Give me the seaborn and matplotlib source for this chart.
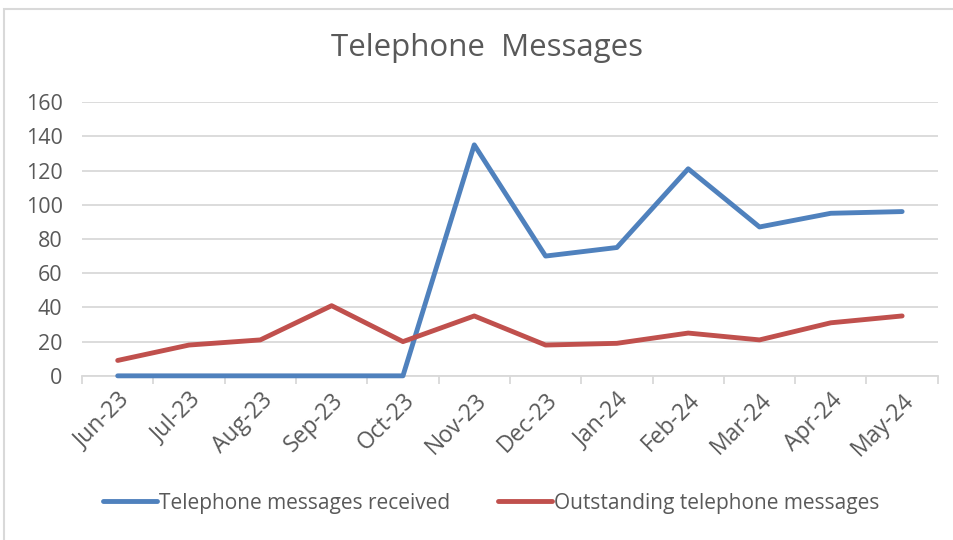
import matplotlib.pyplot as plt
import matplotlib.lines as mlines
import pandas as pd
import seaborn as sns
from matplotlib.ticker import FixedLocator

months = ['Jun-23', 'Jul-23', 'Aug-23', 'Sep-23', 'Oct-23', 'Nov-23',
          'Dec-23', 'Jan-24', 'Feb-24', 'Mar-24', 'Apr-24', 'May-24']
received = [0, 0, 0, 0, 0, 135, 70, 75, 121, 87, 95, 96]
outstanding = [9, 18, 21, 41, 20, 35, 18, 19, 25, 21, 31, 35]
series_names = ['Telephone messages received', 'Outstanding telephone messages']

sns.set_style('white')
plt.rcParams['font.family'] = ['Open Sans', 'DejaVu Sans']

df = pd.DataFrame({'month': months * 2,
                   'value': received + outstanding,
                   'series': [series_names[0]] * 12 + [series_names[1]] * 12})
df['pos'] = df.groupby('series').cumcount()

fig = plt.figure(figsize=(9.54, 5.4), dpi=100)
ax = fig.add_axes([0.086, 0.304, 0.897, 0.507])

palette = {series_names[0]: '#4F81BD', series_names[1]: '#C0504D'}
sns.lineplot(data=df, x='pos', y='value', hue='series', palette=palette,
             linewidth=3.5, ax=ax, legend=False, solid_capstyle='round',
             solid_joinstyle='round', clip_on=False, zorder=3)

grey = '#595959'
ax.set_xlim(-0.5, 11.5)
ax.set_ylim(0, 160)
ax.set_yticks(range(0, 161, 20))
ax.yaxis.grid(True, color='#D9D9D9', linewidth=1.3)
ax.set_axisbelow(True)
for s in ['top', 'right', 'left']:
    ax.spines[s].set_visible(False)
ax.spines['bottom'].set_color('#D9D9D9')
ax.spines['bottom'].set_linewidth(1.3)
ax.spines['bottom'].set_zorder(0.5)

ax.set_xticks(range(12))
ax.set_xticklabels(months, rotation=45, ha='right', rotation_mode='anchor')
ax.xaxis.set_minor_locator(FixedLocator([i - 0.5 for i in range(13)]))
ax.tick_params(axis='x', which='major', length=0, pad=9, labelsize=16.5, labelcolor=grey)
ax.tick_params(axis='x', which='minor', length=6, width=1.3, color='#D9D9D9', bottom=True)
ax.tick_params(axis='y', length=0, labelsize=15.5, labelcolor=grey, pad=14)
ax.set_xlabel('')
ax.set_ylabel('')

fig.text(0.51, 0.912, 'Telephone  Messages', ha='center', va='center',
         fontsize=22.5, color=grey)

handles = [mlines.Line2D([], [], color=palette[n], linewidth=3.5,
                         solid_capstyle='round') for n in series_names]
fig.legend(handles, series_names, loc='center', bbox_to_anchor=(0.515, 0.068),
           ncol=2, frameon=False, fontsize=15, labelcolor=grey,
           handlelength=2.6, handletextpad=0.1, columnspacing=2.3)

# chart border
fig.add_artist(plt.Rectangle((0.004, -0.01), 1.0, 1.0 - 0.006, transform=fig.transFigure,
                             fill=False, edgecolor='#D9D9D9', linewidth=1.5))

fig.savefig('out.png', dpi=100)
